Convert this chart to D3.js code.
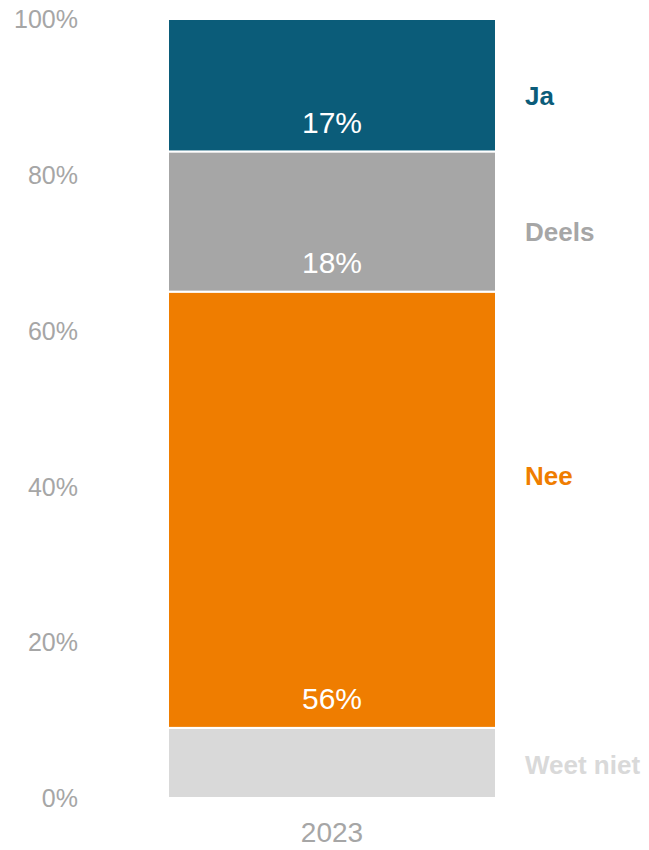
<!DOCTYPE html>
<html><head><meta charset="utf-8">
<script src="https://cdn.jsdelivr.net/npm/d3@7"></script>
<style>body{margin:0;background:#fff}svg{display:block;font-family:"Liberation Sans",Arial,sans-serif}</style>
</head><body><svg id="c" width="649" height="850"></svg>
<script>
const categories = ["2023"];
const seriesNames = ["Weet niet", "Nee", "Deels", "Ja"];
const seriesValues = [9, 56, 18, 17];
const seriesColors = ["#d9d9d9", "#ef7d00", "#a6a6a6", "#0b5c79"];
const showValue = [false, true, true, true];
const legendPos = [4.2, 41.3, 72.7, 90.1];
const tickValues = [0, 20, 40, 60, 80, 100];

const svg = d3.select("#c");
const y = d3.scaleLinear().domain([0, 100]).range([798, 19]);
const x = d3.scaleBand().domain(categories).range([168, 496]).padding(0);
const FF = "Liberation Sans, Arial, sans-serif";

// y axis
const yAxis = d3.axisLeft(y).tickValues(tickValues).tickFormat(d => d + "%").tickSize(0).tickPadding(0);
const ga = svg.append("g").attr("transform", "translate(78,0)").call(yAxis);
ga.select(".domain").remove();
ga.selectAll("text").attr("fill", "#a6a6a6").attr("font-size", 25).attr("font-family", FF).attr("dy", "0.35em");

// x axis
const xAxis = d3.axisBottom(x).tickSize(0).tickPadding(0);
const gx = svg.append("g").attr("transform", "translate(0,832)").call(xAxis);
gx.select(".domain").remove();
gx.selectAll("text").attr("fill", "#a6a6a6").attr("font-size", 28).attr("font-family", FF).attr("dy", "0.35em");

// stacked data
let cum = 0;
const segs = seriesValues.map((v, i) => { const s = {name: seriesNames[i], v, y0: cum, y1: cum + v, color: seriesColors[i], show: showValue[i], lp: legendPos[i]}; cum += v; return s; });

svg.append("g").selectAll("rect").data(segs).join("rect")
  .attr("x", x("2023")).attr("width", x.bandwidth())
  .attr("y", d => y(d.y1)).attr("height", d => y(d.y0) - y(d.y1))
  .attr("fill", d => d.color).attr("stroke", "#fff").attr("stroke-width", 2);

svg.append("g").selectAll("text").data(segs.filter(d => d.show)).join("text")
  .attr("x", x("2023") + x.bandwidth() / 2).attr("y", d => y(d.y0) - 29)
  .attr("dy", "0.35em").attr("text-anchor", "middle").attr("fill", "#fff").attr("font-size", 30)
  .attr("font-family", FF)
  .text(d => d.v + "%");

svg.append("g").selectAll("text").data(segs).join("text")
  .attr("x", 525).attr("y", d => y(d.lp)).attr("dy", "0.35em")
  .attr("fill", d => d.color).attr("font-size", 26).attr("font-weight", "bold").attr("font-family", FF)
  .text(d => d.name);
</script></body></html>
